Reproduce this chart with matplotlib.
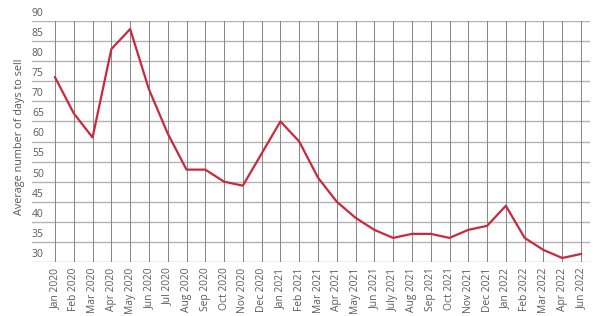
import matplotlib
matplotlib.use("Agg")
import matplotlib.pyplot as plt
from matplotlib.transforms import blended_transform_factory, offset_copy

months = ["Jan 2020", "Feb 2020", "Mar 2020", "Apr 2020", "May 2020", "Jun 2020",
          "Jul 2020", "Aug 2020", "Sep 2020", "Oct 2020", "Nov 2020", "Dec 2020",
          "Jan 2021", "Feb 2021", "Mar 2021", "Apr 2021", "May 2021", "Jun 2021",
          "July 2021", "Aug 2021", "Sep 2021", "Oct 2021", "Nov 2021", "Dec 2021",
          "Jan 2022", "Feb 2022", "Mar 2022", "Apr 2022", "Jun 2022"]
days_to_sell = [76, 67, 61, 83, 88, 73, 62, 53, 53, 50, 49, 57,
                65, 60, 51, 45, 41, 38, 36, 37, 37, 36, 38, 39,
                44, 36, 33, 31, 32]
yticks = [30, 35, 40, 45, 50, 55, 60, 65, 70, 75, 80, 85, 90]
ylabel = "Average number of days to sell"

plt.rcParams['font.family'] = ['Open Sans', 'DejaVu Sans']
text_color = '#5a5a5a'

W, H = 600, 316
fig = plt.figure(figsize=(W / 100, H / 100), dpi=100)
ax_l, ax_r, ax_t, ax_b = 32, 590, 21, 262
ax = fig.add_axes([ax_l / W, 1 - ax_b / H, (ax_r - ax_l) / W, (ax_b - ax_t) / H])

n = len(months)
step = (581 - 55) / (n - 1)
x = list(range(n))
ax.set_xlim(-(55 - ax_l) / step, (n - 1) + (ax_r - 581) / step)
ax.set_ylim(30, 90)

# horizontal grid lines (full width)
for v in yticks:
    ax.axhline(v, color='#b4b4b4', lw=1.0, zorder=1)
# vertical grid lines
for xi in x:
    ax.axvline(xi, color='#858585', lw=0.7, zorder=1)

ax.plot(x, days_to_sell, color='#c72a3e', lw=1.6, zorder=3)

for s in ax.spines.values():
    s.set_visible(False)

ax.set_xticks(x)
ax.set_xticklabels(months, rotation=90, fontsize=7.4, color=text_color)
ax.tick_params(axis='x', length=0, pad=4)
ax.set_yticks([])

trans = offset_copy(blended_transform_factory(ax.transAxes, ax.transData), fig=fig, x=0, y=1.5, units='points')
for v in yticks:
    ax.text(0.0, v, str(v), transform=trans, ha='left', va='bottom', fontsize=7.5, color=text_color)

fig.text(20 / W, 1 - 137 / H, ylabel, rotation=90, ha='center', va='center', fontsize=7.8, color=text_color)

fig.savefig("out.png", dpi=100)
